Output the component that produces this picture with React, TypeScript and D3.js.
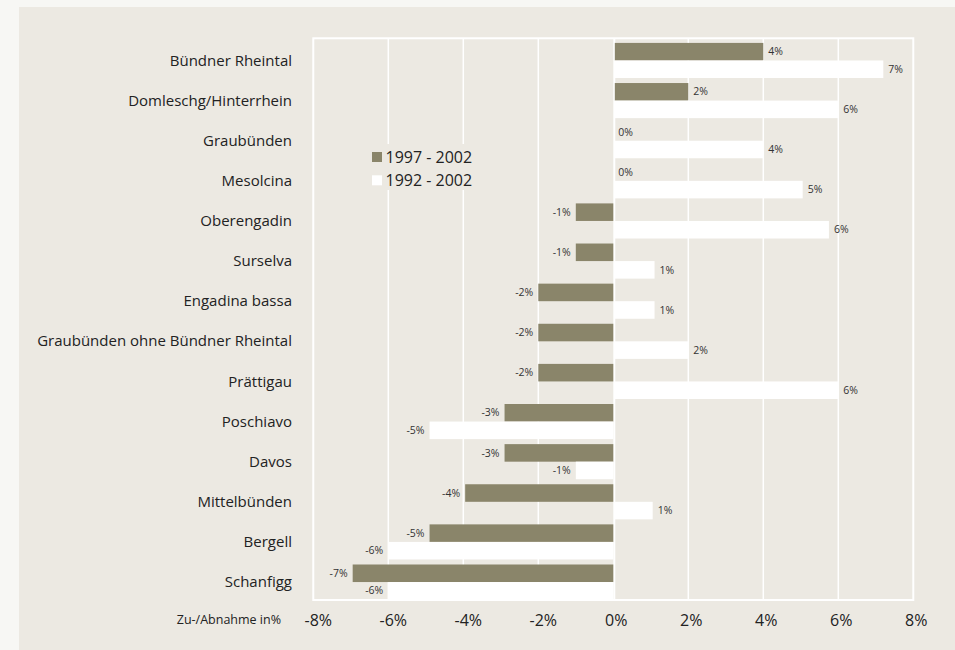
import React from "react";
import * as d3 from "d3";

const categories = [
  "Bündner Rheintal",
  "Domleschg/Hinterrhein",
  "Graubünden",
  "Mesolcina",
  "Oberengadin",
  "Surselva",
  "Engadina bassa",
  "Graubünden ohne Bündner Rheintal",
  "Prättigau",
  "Poschiavo",
  "Davos",
  "Mittelbünden",
  "Bergell",
  "Schanfigg",
];
const series1997 = [4.0, 2.0, 0.0, 0.0, -1.0, -1.0, -2.0, -2.0, -2.0, -2.9, -2.9, -3.95, -4.9, -6.95];
const series1992 = [7.2, 6.0, 4.0, 5.05, 5.75, 1.1, 1.1, 2.0, 6.0, -4.9, -1.0, 1.05, -6.0, -6.0];
const seriesNames = ["1997 - 2002", "1992 - 2002"];
const xTicks = [-8, -6, -4, -2, 0, 2, 4, 6, 8];
const axisTitle = "Zu-/Abnahme in%";

const W = 955;
const H = 650;
const FONT = "'Open Sans', 'Noto Sans', sans-serif";
const OLIVE = "#8a856a";
const PANEL = "#ece9e2";
const PAGE = "#f7f7f4";
const TEXT = "#222";

export default function App() {
  const plot = { left: 313.3, right: 913.3, top: 38.3, bottom: 600 };
  const x = d3.scaleLinear().domain([-8, 8]).range([plot.left, plot.right]);
  const y = d3.scaleBand<string>().domain(categories).range([plot.top, plot.bottom]).paddingInner(0);
  const bw = y.bandwidth();
  const sub = d3.scaleBand<string>().domain(seriesNames).range([bw * 0.115, bw * 0.99]);
  const bh = sub.bandwidth();
  const x0 = x(0);

  const series = [
    { name: seriesNames[0], values: series1997, color: OLIVE },
    { name: seriesNames[1], values: series1992, color: "#ffffff" },
  ];

  const fmt = (v: number) => `${Math.round(v) === 0 ? 0 : Math.round(v)}%`;

  return (
    <svg width={W} height={H} style={{ position: "absolute", left: 0, top: 0, display: "block" }}>
      <rect x={0} y={0} width={W} height={H} fill={PAGE} />
      <rect x={19} y={7} width={W - 19} height={H - 7} fill={PANEL} />

      {/* gridlines */}
      {xTicks.slice(1, -1).map((t) => (
        <line key={t} x1={x(t) + (t === 0 ? 1 : 0)} x2={x(t) + (t === 0 ? 1 : 0)} y1={plot.top} y2={plot.bottom} stroke="#fff" strokeWidth={t === 0 ? 2 : 1.5} />
      ))}
      {/* frame */}
      <rect x={plot.left} y={plot.top} width={plot.right - plot.left} height={plot.bottom - plot.top} fill="none" stroke="#fff" strokeWidth={2} />

      {/* bars */}
      {series.map((s) =>
        s.values.map((v, i) => {
          const yy = (y(categories[i]) as number) + (sub(s.name) as number);
          const xs = v >= 0 ? x0 + 1.5 : x(v);
          const w = v >= 0 ? Math.max(0, x(v) - x0 - 1.5) : x0 - x(v);
          return <rect key={s.name + i} x={xs} y={yy} width={w} height={bh} fill={s.color} />;
        })
      )}

      {/* value labels */}
      {series.map((s) =>
        s.values.map((v, i) => {
          const yy = (y(categories[i]) as number) + (sub(s.name) as number) + bh / 2;
          const pos = v >= 0;
          const lx = pos ? Math.max(x(v), x0) + 5 : x(v) - 5;
          return (
            <text key={"l" + s.name + i} x={lx} y={yy} dy="0.35em" textAnchor={pos ? "start" : "end"} fontFamily={FONT} fontSize={10.5} fill="#333">
              {fmt(v)}
            </text>
          );
        })
      )}

      {/* category labels */}
      {categories.map((c) => (
        <text key={c} x={292} y={(y(c) as number) + bw / 2 + 2} dy="0.35em" textAnchor="end" fontFamily={FONT} fontSize={15} fill={TEXT}>
          {c}
        </text>
      ))}

      {/* x tick labels */}
      {xTicks.map((t) => (
        <text key={"t" + t} x={x(t) + (t < 0 ? 5 : 3)} y={620} dy="0.35em" textAnchor="middle" fontFamily={FONT} fontSize={16} fill={TEXT}>
          {`${t}%`}
        </text>
      ))}
      <text x={281} y={620} dy="0.35em" textAnchor="end" fontFamily={FONT} fontSize={12.5} fill={TEXT}>
        {axisTitle}
      </text>

      {/* legend */}
      <rect x={384} y={144} width={92} height={46} fill={PANEL} />
      {series.map((s, i) => (
        <g key={"lg" + i} transform={`translate(372, ${152 + i * 23.3})`}>
          <rect x={0} y={0} width={10} height={10} fill={s.color} />
          <text x={13.5} y={5} dy="0.35em" fontFamily={FONT} fontSize={16} fill={TEXT}>
            {s.name}
          </text>
        </g>
      ))}
    </svg>
  );
}
